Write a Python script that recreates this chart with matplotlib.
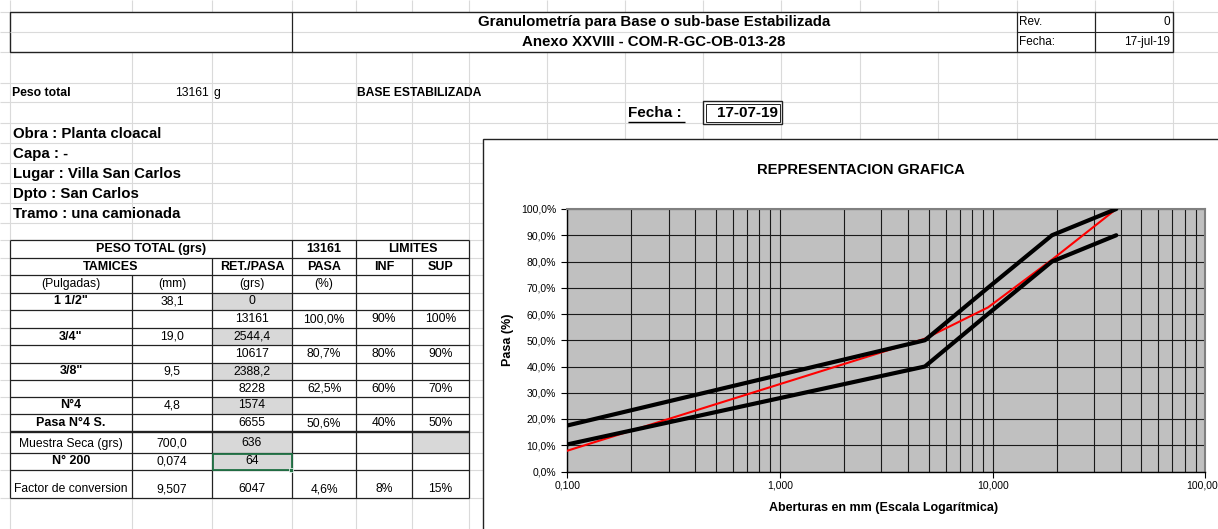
import numpy as np
import matplotlib
matplotlib.use('Agg')
import matplotlib.pyplot as plt
from matplotlib.patches import Rectangle
from matplotlib.ticker import FixedLocator, LogLocator, NullFormatter

plt.rcParams['font.family'] = ['Liberation Sans', 'DejaVu Sans']

# curva granulometrica (abertura mm / % pasa)
aberturas = [38.1, 19.0, 9.5, 4.8, 0.074]
pasa = [100.0, 80.7, 62.5, 50.6, 4.6]
lim_inf = [90, 80, 60, 40, 8]
lim_sup = [100, 90, 70, 50, 15]

# planilla
tamices = ['1 1/2"', '3/4"', '3/8"', 'N°4']
tamices_mm = ['38,1', '19,0', '9,5', '4,8']
retenido = ['0', '2544,4', '2388,2', '1574']
pasa_grs = ['13161', '10617', '8228', '6655']
pasa_pct = ['100,0%', '80,7%', '62,5%', '50,6%']
inf_txt = ['90%', '80%', '60%', '40%']
sup_txt = ['100%', '90%', '70%', '50%']
fila_muestra = ['Muestra Seca (grs)', '700,0', '636']
fila_200 = ['N° 200', '0,074', '64']
fila_factor = ['Factor de conversion', '9,507', '6047', '4,6%', '8%', '15%']
datos_obra = ['Obra : Planta cloacal', 'Capa : -', 'Lugar : Villa San Carlos',
              'Dpto : San Carlos', 'Tramo : una camionada']

x_ticks = [0.1, 1, 10, 100]
x_labels = ['0,100', '1,000', '10,000', '100,000']
y_ticks = list(range(0, 101, 10))

W, H = 1218, 529
fig = plt.figure(figsize=(W / 100, H / 100), dpi=100)
bg = fig.add_axes([0, 0, 1, 1])
bg.set_xlim(0, W)
bg.set_ylim(H, 0)
bg.axis('off')

GRID = '#DADADA'
DARK = '#222222'
FN = 8.7   # texto normal de la tabla
FB = 9.0   # texto en negrita de la tabla


def hl(y, x0, x1, c=DARK, lw=0.9, z=3):
    bg.plot([x0, x1], [y, y], color=c, lw=lw, solid_capstyle='butt', zorder=z)


def vl(x, y0, y1, c=DARK, lw=0.9, z=3):
    bg.plot([x, x], [y0, y1], color=c, lw=lw, solid_capstyle='butt', zorder=z)


def txt(x, y, s, ha='left', size=FN, bold=False, z=5):
    bg.text(x, y, s, ha=ha, va='center', fontsize=size,
            fontweight='bold' if bold else 'normal', zorder=z)


# grilla de la hoja
cols = [10, 132, 212, 292, 356, 412, 469, 547, 625, 703, 781, 860, 938, 1017, 1095, 1173]
rows = [12, 32, 52, 83, 102, 123, 143, 163, 183, 203, 223, 240, 258, 275, 293, 310,
        328, 345, 363, 380, 397, 414, 432, 453, 470, 498]
for c in cols:
    vl(c, 0, H, GRID, 0.8, 1)
for r in rows:
    hl(r, 0, W, GRID, 0.8, 1)

# encabezado
bg.add_patch(Rectangle((10, 12), 1163, 40, facecolor='white', edgecolor=DARK, lw=1, zorder=2))
hl(32, 10, 1017, GRID, 0.8, 2.5)
hl(32, 1017, 1173, DARK, 0.8)
for c in [292, 1017, 1095]:
    vl(c, 12, 52)
txt(654, 22, 'Granulometría para Base o sub-base Estabilizada', 'center', 10.8, True)
txt(654, 42, 'Anexo XXVIII - COM-R-GC-OB-013-28', 'center', 10.8, True)
txt(1019, 22, 'Rev.', size=8.5)
txt(1170, 22, '0', 'right', 8.5)
txt(1019, 42, 'Fecha:', size=8.5)
txt(1170, 42, '17-jul-19', 'right', 8.5)

txt(12, 93, 'Peso total', size=8.8, bold=True)
txt(209, 93, '13161', 'right', 8.7)
txt(213, 93, 'g', size=8.7)
txt(357, 93, 'BASE ESTABILIZADA', size=8.7, bold=True)

txt(628, 113, 'Fecha :', size=11, bold=True)
hl(121.5, 628, 685, 'black', 1.0)
bg.add_patch(Rectangle((703, 101), 79, 23, facecolor='white', edgecolor=DARK, lw=1, zorder=2))
bg.add_patch(Rectangle((705.5, 103.5), 74, 18, facecolor='none', edgecolor=DARK, lw=0.7, zorder=3))
txt(778, 113, '17-07-19', 'right', 11, True)

for i, s in enumerate(datos_obra):
    txt(13, 134 + 20 * i, s, size=10.8, bold=True)

# tabla
e = [240, 258, 275, 293, 310, 328, 345, 363, 380, 397, 414, 432, 453, 470, 498]
tc = [10, 132, 212, 292, 356, 412, 469]
cx = [(tc[i] + tc[i + 1]) / 2 for i in range(6)]
bg.add_patch(Rectangle((10, 240), 459, 258, facecolor='white', edgecolor='none', zorder=2))
gris = '#D8D8D8'
celdas_gris = [(2, 3), (2, 5), (2, 7), (2, 9), (2, 11), (2, 12), (5, 11)]
for ci, ri in celdas_gris:
    bg.add_patch(Rectangle((tc[ci], e[ri]), tc[ci + 1] - tc[ci], e[ri + 1] - e[ri],
                           facecolor=gris, edgecolor='none', zorder=2.5))
for y in e:
    hl(y, 10, 469, DARK, 1.7 if y == 432 else 0.9)
for x in [10, 292, 356, 469]:
    vl(x, 240, 498)
vl(132, 275, 498)
vl(212, 258, 498)
vl(412, 258, 498)

mid = [(e[i] + e[i + 1]) / 2 for i in range(len(e) - 1)]
txt((10 + 292) / 2, mid[0], 'PESO TOTAL (grs)', 'center', FB, True)
txt(cx[3], mid[0], '13161', 'center', FB, True)
txt((356 + 469) / 2, mid[0], 'LIMITES', 'center', FB, True)
txt((10 + 212) / 2, mid[1], 'TAMICES', 'center', FB, True)
for i, s in enumerate(['RET./PASA', 'PASA', 'INF', 'SUP']):
    txt(cx[2 + i], mid[1], s, 'center', FB, True)
for i, s in enumerate(['(Pulgadas)', '(mm)', '(grs)', '(%)']):
    txt(cx[i], mid[2], s, 'center')

for i in range(4):
    r1 = 3 + 2 * i
    r2 = r1 + 1
    txt(cx[0], mid[r1], tamices[i], 'center', FB, True)
    txt(cx[1], mid[r1], tamices_mm[i], 'center')
    txt(cx[2], mid[r1], retenido[i], 'center')
    txt(cx[2], mid[r2], pasa_grs[i], 'center')
    txt(cx[3], mid[r2], pasa_pct[i], 'center')
    txt(cx[4], mid[r2], inf_txt[i], 'center')
    txt(cx[5], mid[r2], sup_txt[i], 'center')
txt(cx[0], mid[10], 'Pasa N°4 S.', 'center', FB, True)

for i, s in enumerate(fila_muestra):
    txt(cx[i], mid[11] + 1, s, 'center')
for i, s in enumerate(fila_200):
    txt(cx[i], mid[12], s, 'center', FB if i == 0 else FN, i == 0)
for i, s in enumerate(fila_factor):
    txt(cx[i], 489, s, 'center')

# celda seleccionada
bg.add_patch(Rectangle((212.5, 453.5), 79, 16.5, facecolor='none', edgecolor='#217346', lw=1.3, zorder=4))
bg.add_patch(Rectangle((289, 468), 4, 4, facecolor='#217346', edgecolor='white', lw=0.5, zorder=4.5))

# recuadro del grafico
bg.add_patch(Rectangle((483, 139), 800, 450, facecolor='white', edgecolor=DARK, lw=1, zorder=6))
bg.text(861, 170, 'REPRESENTACION GRAFICA', ha='center', va='center', fontsize=10.6,
        fontweight='bold', zorder=7)
bg.text(884, 508, 'Aberturas en mm (Escala Logarítmica)', ha='center', va='center',
        fontsize=9, fontweight='bold', zorder=7)
bg.text(508, 340, 'Pasa (%)', ha='center', va='center', rotation=90, fontsize=9,
        fontweight='bold', zorder=7)

x0, x1, y0, y1 = 567.3, 1205.4, 209, 471.5
ax = fig.add_axes([x0 / W, 1 - y1 / H, (x1 - x0) / W, (y1 - y0) / H])
ax.set_zorder(10)
ax.set_facecolor('#C0C0C0')
ax.set_xscale('log')
ax.set_xlim(0.1, 100)
ax.set_ylim(0, 100)

ax.plot(aberturas, pasa, color='#FF0000', lw=1.5, zorder=3)
ax.plot(aberturas, lim_inf, color='black', lw=3, solid_capstyle='round', zorder=4)
ax.plot(aberturas, lim_sup, color='black', lw=3, solid_capstyle='round', zorder=4)

ax.xaxis.set_major_locator(FixedLocator(x_ticks))
ax.set_xticklabels(x_labels)
ax.xaxis.set_minor_locator(LogLocator(base=10, subs=np.arange(2, 10)))
ax.xaxis.set_minor_formatter(NullFormatter())
ax.set_yticks(y_ticks)
ax.set_yticklabels([f'{v:.1f}%'.replace('.', ',') for v in y_ticks])
ax.grid(which='both', axis='x', color='#1A1A1A', lw=0.8)
ax.grid(which='major', axis='y', color='#1A1A1A', lw=0.8)
ax.set_axisbelow(True)
ax.tick_params(axis='both', which='major', labelsize=7.5, length=4, width=0.8,
               color='black', pad=2.5)
ax.tick_params(axis='x', which='minor', length=0)
ax.tick_params(axis='y', pad=4)
for s in ['top', 'right']:
    ax.spines[s].set_color('#808080')
    ax.spines[s].set_linewidth(1.5)
for s in ['left', 'bottom']:
    ax.spines[s].set_color('black')
    ax.spines[s].set_linewidth(1)

fig.savefig('out.png', dpi=100)
